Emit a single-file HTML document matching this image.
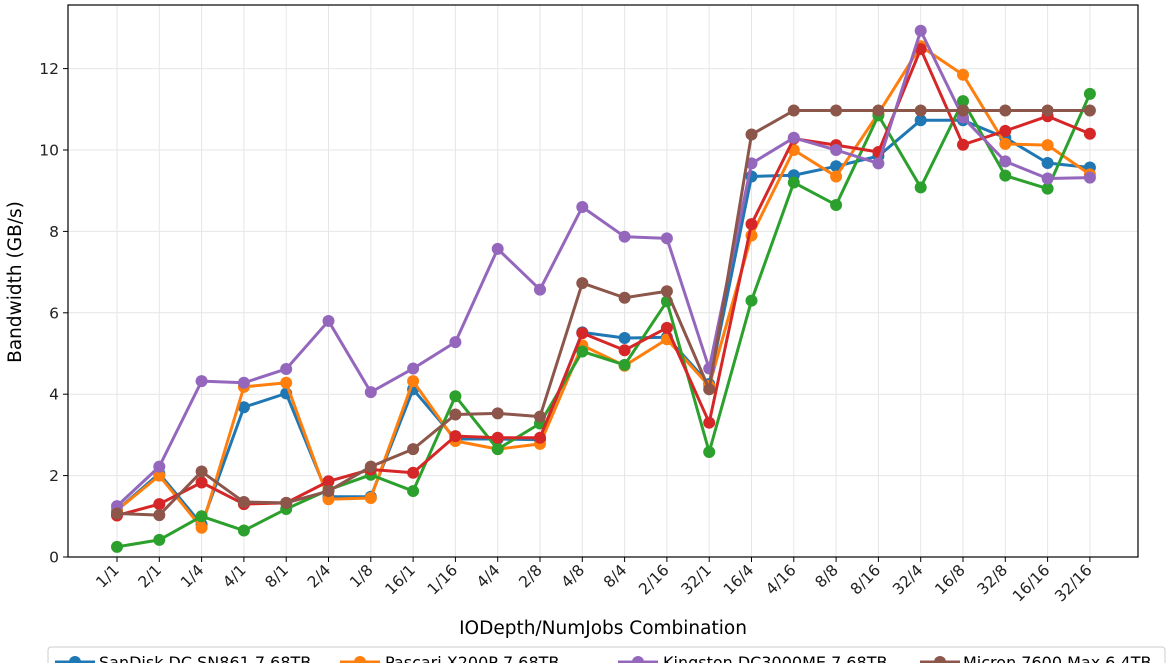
<!DOCTYPE html>
<html><head><meta charset="utf-8"><style>
html,body{margin:0;padding:0;background:#fff;overflow:hidden}
svg{display:block;font-family:"DejaVu Sans","Liberation Sans",sans-serif}
</style></head><body>
<svg id="s" width="1170" height="663" viewBox="0 0 1170 663" xmlns="http://www.w3.org/2000/svg">
<g id="grid" stroke="#e6e6e6" stroke-width="1"></g>
<rect x="68" y="5" width="1070" height="552" fill="none" stroke="#000" stroke-width="1.2"/>
<g id="ticks" stroke="#000" stroke-width="1"></g>
<g id="labels" font-size="15.5" fill="#222"></g>
<g id="series"></g>
<text x="21" y="282" font-size="18.5" text-anchor="middle" transform="rotate(-90 21 282)">Bandwidth (GB/s)</text>
<text x="603" y="634" font-size="18.5" text-anchor="middle">IODepth/NumJobs Combination</text>
<rect x="48" y="647" width="1117" height="40" fill="#fff" stroke="#ccc" rx="3"/>
<g font-size="16" fill="#000">
<line x1="55" y1="662" x2="95" y2="662" stroke="#1f77b4" stroke-width="3"/><circle cx="75" cy="662" r="6" fill="#1f77b4"/><text x="99" y="668">SanDisk DC SN861 7.68TB</text>
<line x1="340" y1="662" x2="380" y2="662" stroke="#ff7f0e" stroke-width="3"/><circle cx="360" cy="662" r="6" fill="#ff7f0e"/><text x="385" y="668">Pascari X200P 7.68TB</text>
<line x1="618" y1="662" x2="658" y2="662" stroke="#9467bd" stroke-width="3"/><circle cx="638" cy="662" r="6" fill="#9467bd"/><text x="663" y="668">Kingston DC3000ME 7.68TB</text>
<line x1="920" y1="662" x2="960" y2="662" stroke="#8c564b" stroke-width="3"/><circle cx="940" cy="662" r="6" fill="#8c564b"/><text x="963" y="668">Micron 7600 Max 6.4TB</text>
</g>
</svg>
<script>
const NS="http://www.w3.org/2000/svg";
const cats=["1/1","2/1","1/4","4/1","8/1","2/4","1/8","16/1","1/16","4/4","2/8","4/8","8/4","2/16","32/1","16/4","4/16","8/8","8/16","32/4","16/8","32/8","16/16","32/16"];
const X=i=>117+42.3*i, Y=v=>557-40.7*v;
function el(t,a,p){const e=document.createElementNS(NS,t);for(const k in a)e.setAttribute(k,a[k]);if(p)p.appendChild(e);return e;}
const g=document.getElementById("grid"),tk=document.getElementById("ticks"),lb=document.getElementById("labels"),sr=document.getElementById("series");
cats.forEach((c,i)=>{const x=X(i);el("line",{x1:x,x2:x,y1:5,y2:557},g);el("line",{x1:x,x2:x,y1:557,y2:562},tk);
const t=el("text",{x:x+3,y:571,"text-anchor":"end",transform:`rotate(-45 ${x+3} 571)`},lb);t.textContent=c;});
for(let v=0;v<=12;v+=2){const y=Y(v);el("line",{x1:68,x2:1138,y1:y,y2:y},g);el("line",{x1:63,x2:68,y1:y,y2:y},tk);
const t=el("text",{x:59,y:y+5.5,"text-anchor":"end"},lb);t.textContent=v;}
const D=[
["#1f77b4",[1.15,2.05,0.8,3.68,4.02,1.48,1.48,4.12,2.9,2.9,2.88,5.52,5.38,5.4,4.25,9.35,9.38,9.6,9.85,10.73,10.73,10.3,9.68,9.57]],
["#ff7f0e",[1.15,2.0,0.72,4.18,4.28,1.42,1.45,4.32,2.85,2.65,2.78,5.2,4.7,5.35,4.2,7.9,10.0,9.35,10.9,12.55,11.85,10.15,10.12,9.4]],
["#2ca02c",[0.25,0.42,1.0,0.65,1.18,1.65,2.02,1.62,3.95,2.65,3.28,5.05,4.72,6.28,2.58,6.3,9.2,8.65,10.85,9.08,11.2,9.37,9.05,11.38]],
["#d62728",[1.02,1.3,1.83,1.3,1.33,1.86,2.15,2.07,2.97,2.93,2.93,5.5,5.08,5.63,3.3,8.18,10.28,10.12,9.95,12.48,10.13,10.47,10.83,10.4]],
["#9467bd",[1.25,2.22,4.32,4.28,4.62,5.8,4.05,4.63,5.28,7.57,6.57,8.6,7.87,7.83,4.63,9.67,10.3,10.0,9.67,12.93,10.8,9.72,9.3,9.32]],
["#8c564b",[1.07,1.03,2.1,1.35,1.33,1.62,2.22,2.65,3.5,3.53,3.45,6.73,6.37,6.53,4.12,10.38,10.97,10.97,10.97,10.97,10.97,10.97,10.97,10.97]]];
D.forEach(([c,v])=>{el("polyline",{points:v.map((y,i)=>X(i)+","+Y(y)).join(" "),fill:"none",stroke:c,"stroke-width":3,"stroke-linejoin":"round"},sr);
v.forEach((y,i)=>el("circle",{cx:X(i),cy:Y(y),r:6,fill:c},sr));});
</script>
</body></html>
